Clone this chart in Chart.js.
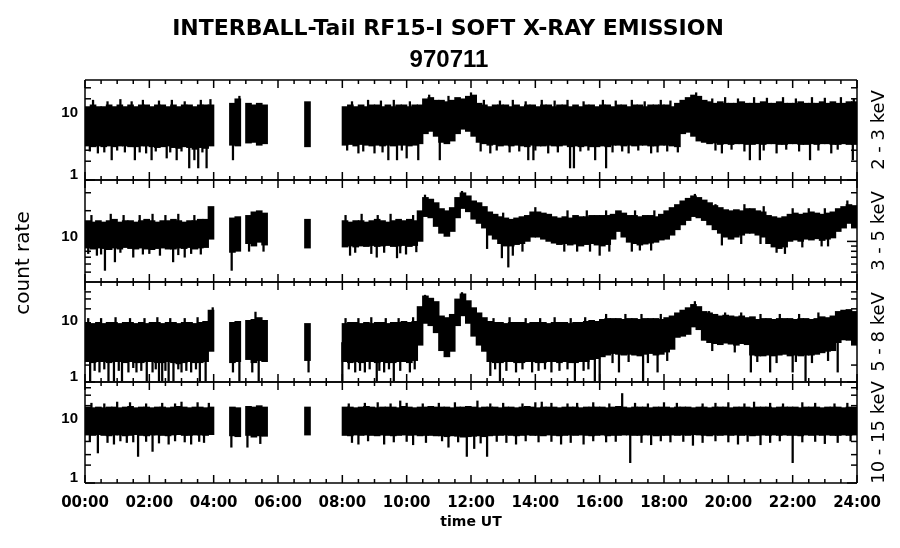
<!DOCTYPE html>
<html>
<head>
<meta charset="utf-8">
<script src="https://cdn.jsdelivr.net/npm/chart.js@4.4.1/dist/chart.umd.min.js"></script>
<style>html,body{margin:0;padding:0;background:#fff}canvas{display:block}</style>
</head>
<body>
<canvas id="c" width="900" height="548"></canvas>
<script>
const n = null;
const titleLine1 = 'INTERBALL-Tail RF15-I SOFT X-RAY EMISSION';
const titleLine2 = '970711';
const xAxisTitle = 'time UT';
const yAxisTitle = 'count rate';
const panelNames = ['2 - 3 keV', '3 - 5 keV', '5 - 8 keV', '10 - 15 keV'];
const xTickHours = [0, 2, 4, 6, 8, 10, 12, 14, 16, 18, 20, 22, 24];
const xTickLabels = ['00:00','02:00','04:00','06:00','08:00','10:00','12:00','14:00','16:00','18:00','20:00','22:00','24:00'];
const yLabelValues = [1, 10];
const binsPerHour = 6; // 10-minute bins, 144 per day

// ---- Panel 1 : 2 - 3 keV (envelope of the dense trace, per 10-min bin) ----
const p1Hi = [
  15,16,15,15,16,15,  16,15,16,15,16,16,  15,16,16,15,16,15,  16,16,15,16,16,16,
  n,n,n,17,20,n,      17,16,17,16,n,n,    n,n,n,n,n,18,       n,n,n,n,n,n,
  15,16,15,16,15,16,  16,15,16,15,16,16,  15,16,16,20,21,19,  19,18,19,21,20,22,
  23,17,16,15,16,16,  16,15,16,15,16,16,  15,16,16,15,16,16,  15,16,15,16,16,15,
  16,16,15,16,16,15,  16,16,15,16,16,16,  16,15,17,19,21,23,  22,19,18,17,18,17,
  17,17,18,17,17,17,  18,17,17,18,17,17,  17,18,17,17,17,18,  17,18,17,17,18,18
];
const p1Lo = [
  3.5,3.4,3.5,3.4,3.5,3.4,  3.5,3.5,3.4,3.4,3.5,3.5,  3.4,3.3,3.4,3.5,3.3,3.2,  3.4,3.3,3.1,3.3,3.2,3.5,
  n,n,n,3.6,3.5,n,          3.9,4.0,3.6,3.8,n,n,      n,n,n,n,n,3.4,            n,n,n,n,n,n,
  3.6,3.7,3.5,3.7,3.6,3.5,  3.6,3.5,3.6,3.5,3.6,3.6,  3.5,3.6,3.8,5.5,6.0,5.0,  4.0,3.8,4.2,5.5,6.5,6.0,
  5.0,4.0,3.8,3.6,3.7,3.5,  3.6,3.5,3.6,3.5,3.4,3.6,  3.5,3.5,3.6,3.5,3.5,3.6,  3.4,3.5,3.4,3.5,3.4,3.4,
  3.5,3.4,3.6,3.6,3.5,3.6,  3.5,3.6,3.6,3.5,3.5,3.6,  3.6,3.5,3.4,5.5,5.8,5.0,  4.2,4.0,3.8,3.9,3.7,3.8,
  3.7,3.8,3.8,3.7,3.7,3.8,  3.7,3.8,3.8,3.7,3.7,3.8,  3.8,3.7,3.7,3.8,3.7,3.8,  3.8,3.7,3.7,3.8,3.7,3.7
];
const p1SpikeHours  = [0.4,0.83,1.24,1.55,1.9,2.07,2.54,2.85,3.24,3.4,3.52,3.78,4.6,4.8,8.5,9.0,9.43,9.7,10.0,10.36,11.03,12.0,12.6,13.78,13.94,14.4,15.08,15.2,15.86,16.2,16.9,17.6,18.43,19.0,19.8,20.67,20.98,21.5,22.54,23.2,23.87];
const p1SpikeValues = [2.7,2.1,2.8,2.1,2.7,2.1,2.25,2.1,1.56,2.1,1.56,1.56,2.1,22,2.7,2.7,2.1,2.1,2.25,2.1,2.1,25,2.7,2.1,2.1,2.7,1.56,1.56,2.1,1.56,2.7,2.7,2.8,25,2.7,2.1,2.1,2.7,2.1,2.7,2.1];
const p1FringeHours  = [0.25,0.7,1.1,1.45,1.8,2.3,2.7,3.1,3.6,3.9,8.3,8.8,9.2,9.6,10.1,10.7,11.3,12.4,12.9,13.3,13.7,14.2,14.6,15.0,15.5,16.1,16.5,17.0,17.4,17.9,18.2,19.5,19.9,20.3,20.8,21.2,21.7,22.1,22.6,23.0,23.5,23.9,
                        0.15,0.6,1.0,1.7,2.2,2.65,3.0,3.65,8.15,8.65,9.25,9.85,12.3,12.8,13.2,13.5,14.0,14.7,15.4,15.65,16.4,16.7,17.2,17.8,18.1,19.6,20.1,20.5,21.1,21.8,22.2,22.8,23.4];
const p1FringeValues = [19,18,19.5,18,19,18.5,19,18,19,19.5,18,19,18.5,19,18,23,22,19,18.5,19,18,19,18.5,19,18,19,18.5,19,18,19,18.5,20,21,20,21,20.5,21,20,21,20.5,21,20,
                        2.9,2.8,3.0,2.8,2.9,2.8,2.9,2.8,3.0,2.9,2.8,3.0,2.9,3.0,2.8,2.9,3.0,2.8,2.9,3.0,2.8,2.9,3.0,2.8,2.9,3.0,3.1,2.9,3.0,3.1,2.9,3.0,3.1];

// ---- Panel 2 : 3 - 5 keV ----
const p2Hi = [
  16,15.5,16,15.5,16,16.5,  15.5,16,16,15.5,16,16.5,  16,15.5,16,16,16.5,16,    15.5,16,16,16.5,16.5,22,
  n,n,n,17,17.5,n,          18,19.5,20,19,n,n,        n,n,n,n,n,16.5,           n,n,n,n,n,n,
  16,15.5,16,16,15.5,16,    16.5,16,15.5,16,16.5,16,  16.5,16,20,27,26,24,      21,20,21.5,27,30,28,
  25,24,22,19.5,18.5,17.5,  17,16.5,17,17.5,18,19.5,  19.5,19,18.5,17.5,17,17.5, 17,18,17.5,17.5,18,18,
  18,18,18.5,20,19,18,      18,17.5,18,18,17.5,18.5,  20,21.5,23,25,26.5,28,    27,25.5,24,22.5,21.5,20.5,
  20,20.5,20,21,21,20,      19.5,18,17.5,17,17.5,18.5, 19,18.5,19,19.5,19,18.5, 19,19.5,21,22,23,22.5
];
const p2Lo = [
  8.6,8.4,8.6,8.5,8.3,8.6,  8.4,8.7,8.5,8.4,8.6,8.4,  8.3,8.5,8.6,8.4,8.4,8.6,  8.5,8.7,8.4,8.6,8.7,10.5,
  n,n,n,7.8,8.0,n,          9.5,9.0,9.8,9.2,n,n,      n,n,n,n,n,8.6,            n,n,n,n,n,n,
  8.8,9.0,8.8,9.0,8.9,9.1,  8.9,9.0,9.1,8.9,9.0,9.1,  8.9,9.1,10,17.5,17,14,    12,11.2,12.5,17,21,19.5,
  16.5,15,13.5,11.5,10.5,9.5, 9.0,9.0,9.3,9.5,10,11,  11,10.5,10,9.6,9.3,9.5,    9.2,9.4,9.0,9.3,9.5,9.2,
  9.0,9.3,10.5,12.5,11,9.8, 9.5,9.2,9.4,9.6,9.8,10.3, 10.5,11.5,13,14.5,16,17.5, 17,16,14.5,13,12,11,
  10.5,11,11.5,12,12,11.5,  11,9.5,8.8,8.5,8.8,10,    10.3,10,10.5,10.3,10.6,10.2, 10.5,10.8,12.5,13.5,15,13.5
];
const p2SpikeHours  = [0.37,0.62,0.93,1.5,2.33,2.74,3.1,4.56,5.1,5.55,8.24,9.07,9.7,9.98,10.57,11.72,12.5,12.96,13.16,13.3,16.0,17.25,18.96,19.8,21.76];
const p2SpikeValues = [7.3,5.2,6.3,7.0,7.3,6.3,7.0,5.2,8.0,8.0,7.3,7.0,6.9,7.5,28.5,31,8.5,6.9,5.6,7.3,7.3,8.2,29,9.2,7.6];
const p2FringeHours  = [0.2,0.8,1.2,1.7,2.1,2.5,2.9,3.4,8.1,8.6,9.1,9.5,10.2,13.0,14.0,15.0,15.6,16.2,17.1,17.7,19.6,20.5,21.1,22.0,22.5,23.0,23.7,
                        0.1,0.5,1.1,1.8,2.0,2.9,3.3,3.6,8.4,8.9,9.3,9.8,10.3,13.6,14.9,15.3,15.7,16.3,17.0,17.6,20.4,21.0,21.5,22.3,22.9,23.1];
const p2FringeValues = [18,18.5,18,18,18.5,18,18.5,18,18,18.5,18,18.5,18,19,21.5,20,20,20,20,20,23,23,22,21,21,21,25,
                        7.6,7.5,7.8,7.5,7.6,7.4,7.6,7.5,7.8,7.6,7.8,7.7,7.9,8.0,8.0,8.0,8.0,8.0,8.0,8.2,9.5,9.5,7.8,8.8,9.0,9.0];

// ---- Panel 3 : 5 - 8 keV ----
const p3Hi = [
  11.5,11,11.5,11,11.5,11.5, 11,11.5,11.5,11,11.5,11, 11.5,11.5,11,11.5,11.5,11, 11.5,11.5,11,11.5,12,19,
  n,n,n,11.5,12,n,          12.5,13,14,12.5,n,n,      n,n,n,n,n,11,             n,n,n,n,n,n,
  11,11.5,11.5,11,11.5,11,  11.5,11.5,11,11.5,11.5,12, 11.5,12,22,34,31,27,     15,14,16,30,37,28,
  21,17,14,12,11.5,11.5,    11,11.5,11.5,11.5,11,11.5, 11.5,11.5,11,11.5,11.5,11.5, 11,11.5,11.5,12,12.5,12,
  13,13.5,13.5,13.5,13,13.5, 13.5,13,13.5,13.5,13.5,13, 14,15,17,19,21,24,     22,18,17,16,15,15.5,
  15,14.5,15,14,14.5,13,    13.5,13.5,13,13.5,13.5,13.5, 13,13.5,13.5,13,13.5,14.5, 14,15,18,19,19.5,18
];
const p3Lo = [
  2.3,2.2,2.3,2.3,2.2,2.3,  2.3,2.2,2.3,2.2,2.2,2.3,  2.3,2.2,2.2,2.3,2.2,2.1,  2.2,2.3,2.2,2.2,2.3,3.5,
  n,n,n,2.2,2.3,n,          2.5,2.2,2.4,2.3,n,n,      n,n,n,n,n,2.4,            n,n,n,n,n,n,
  2.3,2.2,2.3,2.2,2.3,2.3,  2.2,2.3,2.2,2.2,2.3,2.3,  2.2,2.4,4.5,11,10,7.5,    3.6,2.8,3.5,10,15,11,
  6.5,4.5,3.5,2.3,2.2,2.2,  2.3,2.3,2.2,2.2,2.3,2.3,  2.2,2.2,2.3,2.3,2.2,2.3,  2.2,2.2,2.3,2.3,2.5,2.6,
  2.8,3.0,3.2,3.1,3.0,3.1,  3.0,2.9,3.1,3.2,3.0,3.1,  3.4,3.8,6.2,6.5,7.0,9.5,  8.5,5.5,5.0,4.8,4.6,4.9,
  4.7,4.5,4.8,4.6,3.0,2.9,  2.9,3.0,2.9,3.0,3.1,2.9,  3.0,2.9,3.0,3.0,3.1,3.3,  3.5,3.6,5.0,5.6,5.5,4.5
];
const p3SpikeHours  = [0.16,0.3,0.45,0.6,0.73,0.9,1.05,1.15,1.35,1.5,1.6,1.75,1.92,2.1,2.2,2.3,2.4,2.5,2.6,2.75,2.9,3.0,3.15,3.3,3.45,3.57,3.75,3.97,4.6,4.8,5.2,5.3,5.4,6.95,8.0,8.2,8.4,8.55,8.7,8.85,9.07,9.15,9.3,9.45,9.6,9.8,10.1,10.25,10.57,11.72,12.6,12.75,12.9,13.1,13.4,13.6,13.9,14.1,14.3,14.5,14.75,15.0,15.23,15.5,15.65,15.85,16.0,16.6,17.35,17.8,18.96,20.7,21.3,22.0,22.4,23.4];
const p3SpikeValues = [1.05,1.6,1.5,1.7,1.05,1.05,1.6,1.05,1.5,1.8,1.5,1.6,1.05,1.5,1.7,1.05,1.05,1.6,1.05,1.05,1.7,1.5,1.6,1.5,1.7,1.05,1.05,21,1.5,1.05,1.5,17.5,1.05,1.5,1.05,1.7,1.5,1.6,1.5,1.7,1.05,1.6,1.5,1.7,1.05,1.6,1.5,1.7,35,39,1.3,1.7,1.05,1.6,1.5,1.7,1.5,1.6,1.7,1.5,1.6,1.7,1.05,1.6,1.7,1.05,1.05,1.5,1.05,1.5,27,1.5,1.5,1.5,1.05,1.5];
const p3FringeHours  = [0.1,0.5,0.95,1.4,1.85,2.25,2.65,3.1,3.5,8.1,8.5,8.9,9.35,9.75,10.2,12.7,13.2,13.7,14.15,14.6,15.1,15.55,16.2,16.8,17.3,17.9,19.4,19.9,20.4,21.0,21.6,22.2,22.8,
                        16.4,16.9,17.5,18.1,19.5,20.2,20.9,21.5,22.1,22.6,23.1];
const p3FringeValues = [13.5,13.5,14,13.5,13.5,14,13.5,13.5,14,13.5,13.5,14,13.5,13.5,14,13.5,14,13.5,13.5,14,13.5,14,16,16,16,16,18,17,17,16,16,16,17,
                        2.2,2.3,2.2,2.4,3.6,3.4,2.3,2.2,2.3,2.2,2.4];

// ---- Panel 4 : 10 - 15 keV ----
const p4Hi = [
  19,18.5,19,18.5,19,19,    18.5,19,19.5,18.5,19,19,  18.5,19,19,18.5,19,19.5,  19,18.5,19,19,18.5,19,
  n,n,n,19,18.5,n,          19.5,19,20,19,n,n,        n,n,n,n,n,19,             n,n,n,n,n,n,
  19,19,18.5,19,19.5,19,    18.5,19,19,19,18.5,19.5,  19,18.5,19,19,19.5,19,    19,19,18.5,19,19,19.5,
  19,18.5,19,19,19,18.5,    19,19,18.5,19,19.5,19,    18.5,19,19,19,18.5,19,    19,19,18.5,19,19,19,
  19,18.5,19,19.5,19,18.5,  19,19,19,18.5,19,19,      19,18.5,19,19,19,18.5,    19,19,18.5,19,19,19,
  18.5,19,19,19,18.5,19,    19,19,18.5,19,19,19,      19,18.5,19,19,19,18.5,    19,19,19,18.5,19,19
];
const p4Lo = [
  6.4,6.3,6.5,6.3,6.2,6.4,  6.4,6.2,6.3,6.5,6.3,6.2,  6.4,6.4,6.3,6.2,6.4,6.5,  6.3,6.3,6.4,6.4,6.3,6.5,
  n,n,n,6.2,6.0,n,          6.3,5.9,6.2,6.1,n,n,      n,n,n,n,n,6.4,            n,n,n,n,n,n,
  6.3,6.2,6.4,6.3,6.4,6.3,  6.2,6.4,6.3,6.2,6.3,6.4,  6.3,6.4,6.2,6.3,6.3,6.2,  6.2,6.0,6.2,6.1,5.9,6.0,
  6.1,6.2,6.0,6.2,6.3,6.3,  6.4,6.3,6.2,6.3,6.4,6.3,  6.3,6.2,6.4,6.3,6.2,6.3,  6.4,6.3,6.4,6.3,6.2,6.3,
  6.4,6.2,6.3,6.3,6.4,6.4,  6.3,6.3,6.4,6.4,6.2,6.3,  6.3,6.4,6.3,6.4,6.3,6.5,  6.4,6.3,6.2,6.4,6.3,6.4,
  6.3,6.4,6.3,6.4,6.2,6.3,  6.4,6.3,6.4,6.3,6.4,6.3,  6.3,6.2,6.4,6.3,6.4,6.3,  6.4,6.3,6.3,6.4,6.3,6.4
];
const p4SpikeHours  = [0.4,0.9,1.0,1.3,1.65,2.1,2.6,3.0,3.3,3.7,4.55,5.05,5.45,8.5,9.3,9.8,10.2,11.3,11.87,12.1,12.2,12.5,13.4,14.2,14.8,15.5,16.7,16.95,17.6,18.9,20.3,20.8,21.0,22.0,23.0];
const p4SpikeValues = [3.2,4.5,23,4.8,2.8,3.4,4.5,23,4.5,4.8,4.0,4.0,4.6,4.5,4.5,24,4.4,4.0,2.8,3.8,24,2.8,4.5,23,4.5,4.5,32,2.2,4.4,4.3,4.5,23,4.4,2.2,4.6];
const p4FringeHours  = [0.2,0.6,1.4,1.9,2.4,2.8,3.5,3.85,8.2,8.7,9.1,9.5,10.0,10.5,11.0,11.5,12.6,13.0,13.6,14.0,14.5,15.0,15.3,15.8,16.3,17.1,17.5,18.0,18.4,19.2,19.6,20.0,20.5,21.3,21.7,22.3,22.7,23.3,23.7,
                        0.15,0.7,1.1,1.5,1.9,2.3,2.8,3.1,3.55,8.3,8.8,9.6,10.0,10.6,11.1,11.6,12.3,12.8,13.1,13.7,14.1,14.5,15.1,15.8,16.2,16.5,17.3,17.9,18.2,18.6,19.2,19.6,20.0,20.6,21.3,21.6,22.3,22.7,23.4,23.8];
const p4FringeValues = [22,21.5,22.5,21.5,22,21.5,22.5,22,21.5,22,22.5,21.5,22,21.5,22,22.5,21.5,22,21.5,22.5,22,21.5,22,22.5,21.5,22,21.5,22.5,22,21.5,22,22.5,21.5,22,21.5,22.5,22,21.5,22,
                        5.0,4.8,5.1,4.9,5.0,4.7,5.1,4.9,5.0,4.8,5.1,4.9,5.0,4.8,5.1,4.9,4.7,5.0,4.8,5.1,4.9,5.0,4.8,5.1,4.9,5.0,4.8,5.1,4.9,5.0,4.8,5.1,4.9,5.0,4.8,5.1,4.9,5.0,4.8,5.1];

// ---- axis ranges and minor tick values per panel ----
const panels = [
  {id: 'y1', name: panelNames[0], hi: p1Hi, lo: p1Lo, sh: p1SpikeHours.concat(p1FringeHours), sv: p1SpikeValues.concat(p1FringeValues), min: 1, max: 40, minor: [2, 3, 20, 30], weight: 100},
  {id: 'y2', name: panelNames[1], hi: p2Hi, lo: p2Lo, sh: p2SpikeHours.concat(p2FringeHours), sv: p2SpikeValues.concat(p2FringeValues), min: 4, max: 40, minor: [5, 6, 7, 8, 9, 20, 30], weight: 102},
  {id: 'y3', name: panelNames[2], hi: p3Hi, lo: p3Lo, sh: p3SpikeHours.concat(p3FringeHours), sv: p3SpikeValues.concat(p3FringeValues), min: 1, max: 60, minor: [2, 20, 30, 40], weight: 100},
  {id: 'y4', name: panelNames[3], hi: p4Hi, lo: p4Lo, sh: p4SpikeHours.concat(p4FringeHours), sv: p4SpikeValues.concat(p4FringeValues), min: 1, max: 50, minor: [2, 3, 5, 20, 30, 40], weight: 101}
];

function coreData(hi, lo) {
  const d = [];
  for (let i = 0; i < hi.length; i++) {
    if (hi[i] == null || lo[i] == null) continue;
    d.push({x: (i + 0.5) / binsPerHour, y: [lo[i], hi[i]]});
  }
  return d;
}
function spikeData(p) {
  const d = [];
  p.sh.forEach((h, k) => {
    const i = Math.min(p.hi.length - 1, Math.floor(h * binsPerHour));
    if (p.hi[i] == null || p.lo[i] == null) return;
    const v = p.sv[k];
    const ref = Math.sqrt(p.hi[i] * p.lo[i]);
    d.push({x: h, y: [Math.min(v, ref), Math.max(v, ref)]});
  });
  return d;
}

const datasets = [];
panels.forEach(p => {
  datasets.push({type: 'bar', label: p.name, yAxisID: p.id, data: coreData(p.hi, p.lo),
    backgroundColor: '#000', borderWidth: 0, barThickness: 6, grouped: false});
  datasets.push({type: 'bar', label: p.name + ' spikes', yAxisID: p.id, data: spikeData(p),
    backgroundColor: '#000', borderWidth: 0, barThickness: 1.6, grouped: false});
});

const scales = {
  x: {
    type: 'linear', min: 0, max: 24, offset: false, position: 'bottom',
    grid: {display: false, drawTicks: false}, border: {display: false},
    afterBuildTicks: s => { s.ticks = xTickHours.map(v => ({value: v})); },
    ticks: {autoSkip: false, maxRotation: 0, padding: 11, color: '#000',
      font: {family: 'DejaVu Sans', size: 15, weight: 'bold'},
      callback: v => xTickLabels[xTickHours.indexOf(v)]},
    title: {display: true, text: xAxisTitle, color: '#000',
      font: {family: 'DejaVu Sans', size: 14, weight: 'bold'}, padding: {top: 0, bottom: 17}},
    afterFit: s => { s.height = 65; }
  }
};
// define bottom panel first: stacked left axes are placed bottom-up in definition order
panels.slice().reverse().forEach(p => {
  scales[p.id] = {
    type: 'logarithmic', position: 'left', stack: 'panels', stackWeight: p.weight,
    min: p.min, max: p.max, offset: false,
    grid: {display: false, drawTicks: false}, border: {display: false},
    afterBuildTicks: s => { s.ticks = yLabelValues.filter(v => v >= p.min && v <= p.max).map(v => ({value: v})); },
    ticks: {autoSkip: false, padding: 7, labelOffset: -5, color: '#000',
      font: {family: 'Liberation Sans', size: 15, weight: 'bold'},
      callback: v => String(v)},
    afterFit: s => { s.width = 85; }
  };
});

const framePlugin = {
  id: 'frames',
  afterDraw(chart) {
    const ctx = chart.ctx, a = chart.chartArea, xs = chart.scales.x;
    ctx.save();
    ctx.strokeStyle = '#000';
    ctx.lineWidth = 1.5;
    const seg = (x1, y1, x2, y2) => { ctx.beginPath(); ctx.moveTo(x1, y1); ctx.lineTo(x2, y2); ctx.stroke(); };
    seg(a.left, a.top, a.left, a.bottom);
    seg(a.right, a.top, a.right, a.bottom);
    panels.forEach(p => {
      const s = chart.scales[p.id];
      seg(a.left, s.top, a.right, s.top);
      seg(a.left, s.bottom, a.right, s.bottom);
      for (let q = 0; q <= 48; q++) {
        const x = xs.getPixelForValue(q / 2);
        const L = (q % 4 === 0) ? 8 : 4;
        seg(x, s.top, x, s.top + L);
        seg(x, s.bottom, x, s.bottom - L);
      }
      const yt = (v, L) => { const y = s.getPixelForValue(v); seg(a.left, y, a.left + L, y); seg(a.right, y, a.right - L, y); };
      yLabelValues.forEach(v => { if (v >= p.min && v <= p.max) yt(v, 10); });
      p.minor.forEach(v => yt(v, 6));
    });
    ctx.fillStyle = '#000';
    ctx.textAlign = 'center';
    ctx.textBaseline = 'alphabetic';
    ctx.font = 'bold 22px "DejaVu Sans"';
    ctx.fillText(titleLine1, 448, 35);
    ctx.font = 'bold 24px "Liberation Sans"';
    ctx.fillText(titleLine2, 449, 67);
    // left axis title
    ctx.save();
    ctx.translate(29, 263);
    ctx.rotate(-Math.PI / 2);
    ctx.font = '20px "DejaVu Sans"';
    ctx.fillText(yAxisTitle, 0, 0);
    ctx.restore();
    // right-side panel names
    panels.forEach(p => {
      const s = chart.scales[p.id];
      ctx.save();
      ctx.translate(884, (s.top + s.bottom) / 2);
      ctx.rotate(-Math.PI / 2);
      ctx.font = '18px "DejaVu Sans"';
      ctx.fillText(p.name, 0, 0);
      ctx.restore();
    });
    ctx.restore();
  }
};

new Chart(document.getElementById('c'), {
  type: 'bar',
  data: {datasets},
  options: {
    responsive: false, animation: false, devicePixelRatio: 1,
    layout: {padding: {top: 80, right: 43, bottom: 0, left: 0}},
    plugins: {legend: {display: false}, tooltip: {enabled: false}, title: {display: false}},
    scales
  },
  plugins: [framePlugin]
});
</script>
</body>
</html>
